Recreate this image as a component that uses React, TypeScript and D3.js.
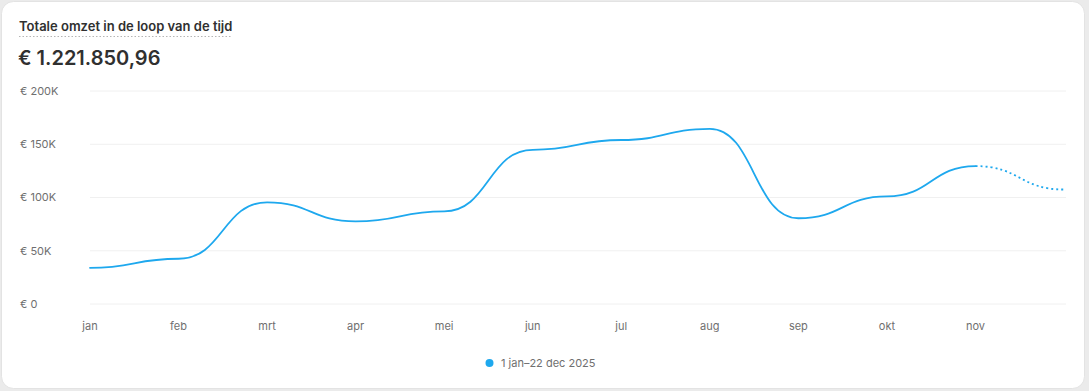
import React from "react";
import * as d3 from "d3";

const months = ["jan", "feb", "mrt", "apr", "mei", "jun", "jul", "aug", "sep", "okt", "nov", "dec"];
const monthLabels = ["jan", "feb", "mrt", "apr", "mei", "jun", "jul", "aug", "sep", "okt", "nov"];
const revenue = [34000, 42500, 95500, 77500, 87000, 144800, 154000, 164500, 80500, 101000, 129500, 107500];
const solidCount = 11; // jan..nov solid, nov->dec dotted
const yTicks = [0, 50000, 100000, 150000, 200000];
const yTickLabels = ["€ 0", "€ 50K", "€ 100K", "€ 150K", "€ 200K"];
const title = "Totale omzet in de loop van de tijd";
const total = "€ 1.221.850,96";
const legendLabel = "1 jan–22 dec 2025";

export default function App() {
  const W = 1089, H = 391;
  const x = d3.scalePoint<string>().domain(months).range([90, 1064]);
  const y = d3.scaleLinear().domain([0, 200000]).range([304, 91]);
  const line = d3
    .line<number>()
    .x((_, i) => x(months[i]) as number)
    .y((d) => y(d))
    .curve(d3.curveBumpX);
  const solidPts = revenue.slice(0, solidCount);
  const solidPath = line(solidPts) as string;
  const dottedLine = d3
    .line<number>()
    .x((_, i) => x(months[i + solidCount - 1]) as number)
    .y((d) => y(d))
    .curve(d3.curveBumpX);
  const dottedPath = dottedLine(revenue.slice(solidCount - 1)) as string;
  const font = "Inter, 'Noto Sans', sans-serif";
  const color = "#1ea8ee";
  return (
    <svg
      width={W}
      height={H}
      style={{ position: "absolute", left: 0, top: 0, display: "block" }}
      fontFamily={font}
    >
      <rect x={0} y={0} width={W} height={H} fill="#ebebeb" />
      <rect x={1.5} y={1.5} width={1083} height={387} rx={12} fill="#ffffff" stroke="#e3e3e3" />
      <text x={19} y={31} fontSize={13} fontWeight={600} fill="#303030">
        {title}
      </text>
      <line x1={19} x2={231} y1={36.5} y2={36.5} stroke="#b5b5b5" strokeDasharray="1.5 2" />
      <text x={18} y={65} fontSize={20} fontWeight={600} fill="#303030">
        {total}
      </text>
      {yTicks.map((t, i) => (
        <g key={t}>
          <line x1={90} x2={1066} y1={y(t)} y2={y(t)} stroke="#f0f0f0" strokeWidth={1} />
          <text x={20} y={y(t)} dy="0.35em" fontSize={11} fill="#6f6f6f">
            {yTickLabels[i]}
          </text>
        </g>
      ))}
      {monthLabels.map((m) => (
        <text key={m} x={x(m)} y={330} textAnchor="middle" fontSize={11} fill="#6f6f6f">
          {m}
        </text>
      ))}
      <path d={solidPath} fill="none" stroke={color} strokeWidth={1.8} strokeLinecap="round" />
      <path d={dottedPath} fill="none" stroke={color} strokeWidth={1.8} strokeDasharray="2 3" />
      <circle cx={489.5} cy={363} r={4} fill={color} />
      <text x={501} y={363} dy="0.35em" fontSize={11} fill="#6f6f6f">
        {legendLabel}
      </text>
    </svg>
  );
}
